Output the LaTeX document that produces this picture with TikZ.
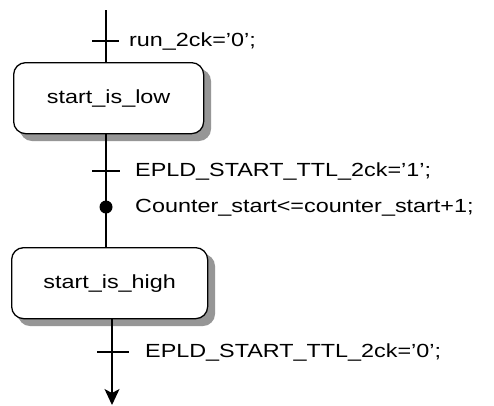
\documentclass[tikz,border=0pt]{standalone}
\usepackage{fontspec}
\setmainfont{Liberation Sans}
\usetikzlibrary{arrows.meta}
\newcommand{\wtxt}[1]{\scalebox{1.23}[1]{#1}}
\definecolor{shadowgray}{RGB}{150,150,150}
\begin{document}
\begin{tikzpicture}[x=1pt,y=-1pt,
  statebox/.style={draw,line width=1.3pt,rounded corners=12pt,fill=white,font=\fontsize{19}{20}\selectfont,anchor=north west,minimum height=71pt},
  lbl/.style={anchor=west,font=\fontsize{19}{20}\selectfont,inner sep=0pt},
  wire/.style={line width=1.3pt},
  tick/.style={line width=1.3pt}]
\fill[white] (0,0) rectangle (494,405);
\useasboundingbox (0,0) rectangle (494,405);
\fill[shadowgray,rounded corners=12pt] (20,69) rectangle (211,141);
\fill[shadowgray,rounded corners=12pt] (18,254) rectangle (215,326);
\node[statebox,minimum width=190pt] (s1) at (13,62) {\wtxt{start\_is\_low}};
\node[statebox,minimum width=196pt] (s2) at (11,247) {\wtxt{start\_is\_high}};
\coordinate (top) at (106,10);
\coordinate (bot) at (112,405);
\draw[wire] (top) -- (top |- s1.north);
\draw[tick] (92,41) coordinate (t1a) -- (119,41) coordinate (t1b);
\node[lbl] (l1) at (129,41) {\wtxt{run\_2ck='0';}};
\draw[wire] (s1.south -| top) -- (s2.north -| top);
\draw[tick] (92,171) coordinate (t2a) -- (120,171) coordinate (t2b);
\node[lbl] (l2) at (135,171) {\wtxt{EPLD\_START\_TTL\_2ck='1';}};
\node[circle,fill=black,minimum size=13pt,inner sep=0pt] (dot) at (106,207) {};
\node[lbl] (l3) at (135,208) {\wtxt{Counter\_start<=counter\_start+1;}};
\draw[wire,-{Stealth[length=16pt,width=15pt,inset=4pt]}] (s2.south -| bot) -- (bot);
\draw[tick] (97,352) coordinate (t3a) -- (129,352) coordinate (t3b);
\node[lbl] (l4) at (145,352) {\wtxt{EPLD\_START\_TTL\_2ck='0';}};
\end{tikzpicture}
\end{document}
